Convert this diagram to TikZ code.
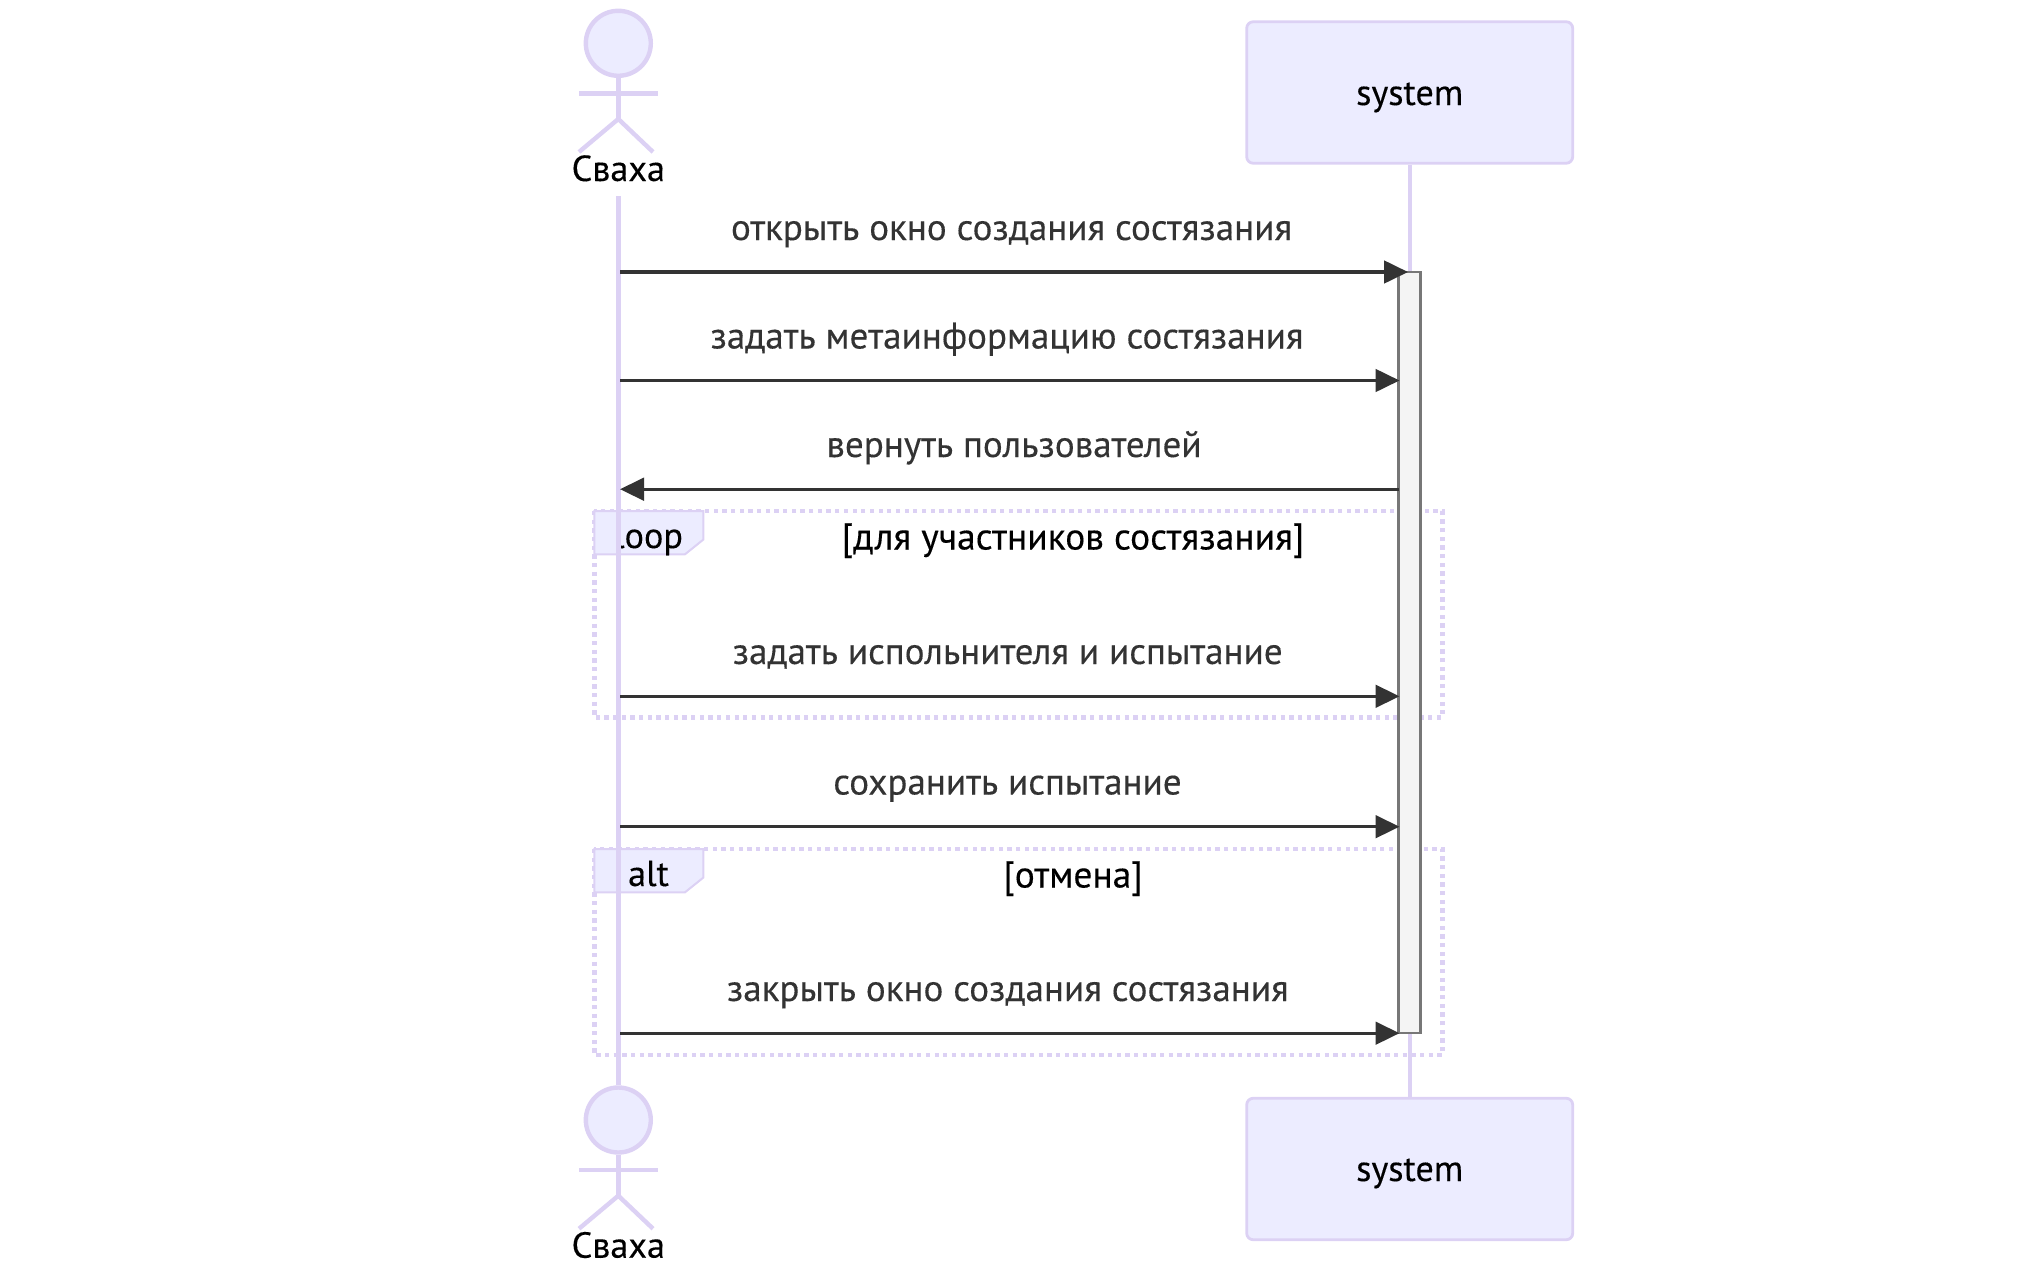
\documentclass[tikz,border=0pt]{standalone}
\usepackage{fontspec}
\setmainfont{PT Sans}
\newfontfamily\lblfont[FakeBold=0.25]{PT Sans}
\usetikzlibrary{arrows.meta}
\definecolor{lifeC}{HTML}{DCD1F4}
\definecolor{bgC}{HTML}{ECECFF}
\definecolor{msgC}{HTML}{333333}
\definecolor{actC}{HTML}{F4F4F4}
\definecolor{actS}{HTML}{777777}
\newcommand{\fsm}{\lblfont\fontsize{37.1}{42}\selectfont}
\newcommand{\fsb}{\lblfont\fontsize{36.2}{42}\selectfont}
\newcommand{\fst}{\lblfont\fontsize{37.5}{42}\selectfont}
\tikzset{
  lifeline/.style={draw=lifeC,line width=4.4pt},
  limb/.style={draw=lifeC,line width=4.4pt},
  headc/.style={circle,draw=lifeC,fill=bgC,line width=4.4pt,minimum size=65pt,inner sep=0pt},
  sysbox/.style={draw=lifeC,fill=bgC,line width=2.8pt,rounded corners=6.5pt,minimum width=326pt,minimum height=141.5pt,inner sep=0pt},
  blabel/.style={anchor=base,inner sep=0pt,font=\fsb,text=black},
  tlabel/.style={anchor=base,inner sep=0pt,font=\fst,text=black},
  msglabel/.style={anchor=base,inner sep=0pt,font=\fsm,text=msgC},
  msg/.style={draw=msgC,line width=3.3pt,-{Triangle[length=24pt,width=22.5pt,color=msgC]}},
  framebox/.style={draw=lifeC,line width=4.5pt,dash pattern=on 4.3pt off 4.37pt},
  framelabel/.style={draw=lifeC,fill=bgC,line width=2pt},
  actbar/.style={draw=actS,fill=actC,line width=2.6pt},
}
\begin{document}
\begin{tikzpicture}[x=1pt,y=-1pt]
\useasboundingbox (0,0) rectangle (2028,1263);
% frames
\draw[framebox] (594.3,511) rectangle (1442.3,717.6);
\draw[framelabel] (594.3,511) -- (703.3,511) -- (703.3,539.6) -- (685,554.3) -- (594.3,554.3) -- cycle;
\node[blabel] (looplbl) at (648.5,548) {loop};
\node[tlabel] (looptitle) at (1073,549.5) {[для участников состязания]};
\draw[framebox] (594.3,849) rectangle (1442.3,1055);
\draw[framelabel] (594.3,849) -- (703.3,849) -- (703.3,877.6) -- (685,892.3) -- (594.3,892.3) -- cycle;
\node[blabel] (altlbl) at (648.5,886) {alt};
\node[tlabel] (alttitle) at (1073,887.5) {[отмена]};
% participants
\node[sysbox] (systop) at (1409.7,92.5) {};
\node[blabel] at (1409.7,105) {system};
\node[sysbox] (sysbot) at (1409.7,1169) {};
\node[blabel] at (1409.7,1181) {system};
\node[blabel] (svtop) at (618.3,181) {Сваха};
\node[blabel] (svbot) at (618.3,1257.7) {Сваха};
\node[headc] (headtop) at (618.3,43.3) {};
\node[headc] (headbot) at (618.3,1120) {};
\coordinate (armTL) at (579,93.5); \coordinate (armTR) at (657.5,93.5);
\coordinate (hipT) at (618.3,119); \coordinate (legTL) at (579,152); \coordinate (legTR) at (653,152);
\coordinate (armBL) at (579,1170); \coordinate (armBR) at (657.5,1170);
\coordinate (hipB) at (618.3,1195.7); \coordinate (legBL) at (579,1228.7); \coordinate (legBR) at (653,1228.7);
\coordinate (lifeTop) at (618.3,196);
\draw[limb] (headtop.south) -- (hipT); \draw[limb] (armTL) -- (armTR); \draw[limb] (legTL) -- (hipT) -- (legTR);
\draw[limb] (headbot.south) -- (hipB); \draw[limb] (armBL) -- (armBR); \draw[limb] (legBL) -- (hipB) -- (legBR);
% lifelines
\draw[lifeline] (lifeTop) -- (headbot.north);
\draw[lifeline] (systop.south) -- (sysbot.north);
% activation
\draw[actbar] (1398.6,272) rectangle (1420.7,1033);
% anchors
\coordinate (s1) at (620,272); \coordinate (e1) at (1408,272);
\coordinate (s2) at (620,380.5); \coordinate (e2) at (1399.5,380.5);
\coordinate (s3) at (1398.6,489.2); \coordinate (e3) at (620,489.2);
\coordinate (s4) at (620,696.3); \coordinate (e4) at (1399.5,696.3);
\coordinate (s5) at (620,826.7); \coordinate (e5) at (1399.5,826.7);
\coordinate (s6) at (620,1033.2); \coordinate (e6) at (1399.5,1033.2);
\foreach \i in {1,...,6} {\draw[msg] (s\i) -- (e\i);}
\node[msglabel] (m1) at (1011.5,240) {открыть окно создания состязания};
\node[msglabel] (m2) at (1007,348.5) {задать метаинформацию состязания};
\node[msglabel] (m3) at (1014,457) {вернуть пользователей};
\node[msglabel] (m4) at (1007.7,664) {задать испольнителя и испытание};
\node[msglabel] (m5) at (1007.5,794.5) {сохранить испытание};
\node[msglabel] (m6) at (1007.8,1001) {закрыть окно создания состязания};
\end{tikzpicture}
\end{document}
